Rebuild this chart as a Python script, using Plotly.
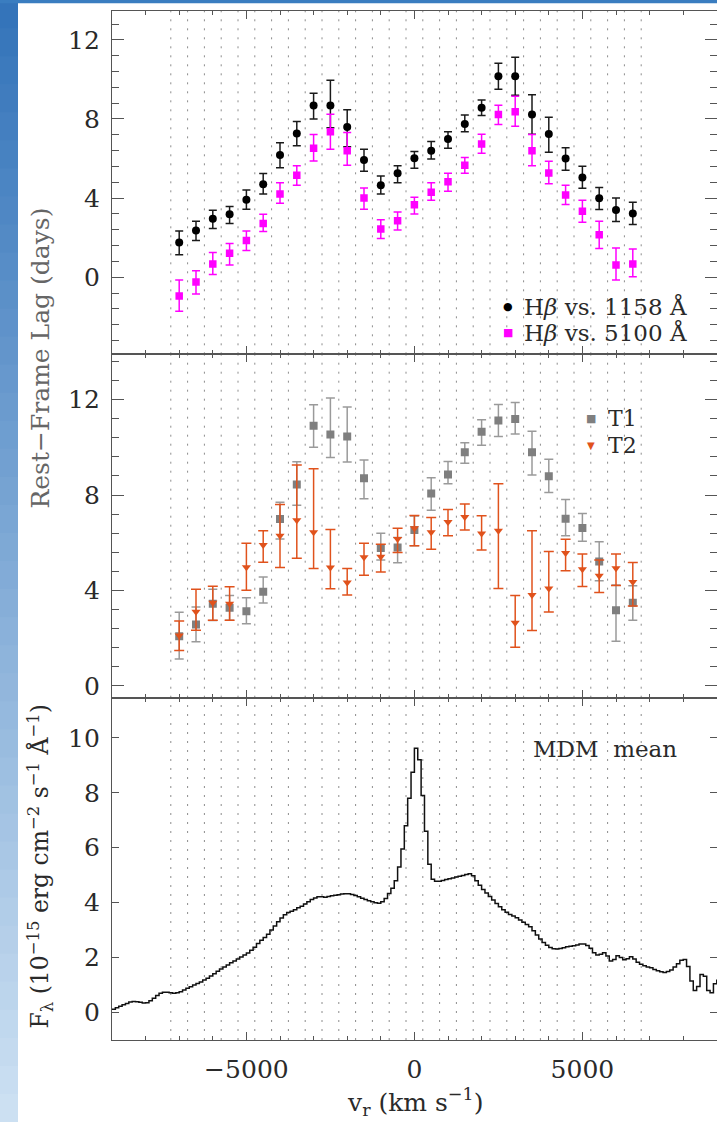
import plotly.graph_objects as go
from plotly.subplots import make_subplots

# ---------------------------------------------------------------- data
# velocity-bin centres (km/s)
vel = [-7000, -6500, -6000, -5500, -5000, -4500, -4000, -3500, -3000, -2500,
       -2000, -1500, -1000, -500, 0, 500, 1000, 1500, 2000, 2500,
       3000, 3500, 4000, 4500, 5000, 5500, 6000, 6500]
bin_half_width = 250

# H-beta vs. 1158 A continuum
lag_1158 = [1.75, 2.36, 2.95, 3.18, 3.92, 4.70, 6.18, 7.26, 8.68, 8.68,
            7.60, 5.92, 4.65, 5.26, 6.02, 6.39, 6.99, 7.75, 8.57, 10.16,
            10.16, 8.22, 7.24, 6.00, 5.04, 3.99, 3.40, 3.22]
lag_1158_up = [0.59, 0.47, 0.44, 0.39, 0.49, 0.54, 0.62, 0.61, 0.62, 1.28,
               0.87, 0.55, 0.47, 0.38, 0.33, 0.47, 0.37, 0.45, 0.39, 0.66,
               0.96, 1.01, 0.85, 0.55, 0.57, 0.54, 0.61, 0.57]
lag_1158_dn = [0.62, 0.51, 0.49, 0.47, 0.48, 0.50, 0.65, 0.62, 0.68, 1.12,
               1.00, 0.56, 0.45, 0.49, 0.51, 0.41, 0.47, 0.39, 0.40, 0.66,
               0.96, 0.99, 0.92, 0.59, 0.54, 0.57, 0.59, 0.56]

# H-beta vs. 5100 A continuum
lag_5100 = [-0.95, -0.24, 0.67, 1.21, 1.85, 2.71, 4.21, 5.16, 6.52, 7.35,
            6.39, 4.01, 2.43, 2.85, 3.66, 4.30, 4.82, 5.66, 6.74, 8.22,
            8.36, 6.39, 5.27, 4.16, 3.34, 2.14, 0.62, 0.67]
lag_5100_up = [0.81, 0.57, 0.58, 0.49, 0.49, 0.47, 0.57, 0.48, 0.69, 0.89,
               0.92, 0.50, 0.47, 0.45, 0.38, 0.48, 0.44, 0.39, 0.49, 0.48,
               0.79, 0.82, 0.59, 0.49, 0.55, 0.69, 0.85, 0.76]
lag_5100_dn = [0.77, 0.61, 0.54, 0.60, 0.50, 0.40, 0.47, 0.51, 0.64, 0.88,
               0.73, 0.57, 0.48, 0.46, 0.46, 0.41, 0.47, 0.40, 0.47, 0.50,
               0.73, 0.75, 0.55, 0.49, 0.56, 0.69, 0.76, 0.65]

# campaign halves T1 / T2
lag_t1 = [2.08, 2.57, 3.44, 3.27, 3.12, 3.94, 6.99, 8.44, 10.90, 10.54,
          10.45, 8.70, 5.78, 5.80, 6.53, 8.06, 8.86, 9.79, 10.65, 11.12,
          11.19, 9.79, 8.79, 7.00, 6.62, 5.21, 3.17, 3.48]
lag_t1_up = [1.00, 0.73, 0.61, 0.52, 0.57, 0.62, 0.71, 0.95, 0.88, 1.53,
             1.24, 0.77, 0.62, 0.42, 0.59, 0.66, 0.54, 0.40, 0.51, 0.67,
             0.69, 0.88, 0.71, 0.81, 0.60, 0.83, 1.06, 0.71]
lag_t1_dn = [0.96, 0.72, 0.70, 0.52, 0.52, 0.47, 0.84, 0.87, 0.90, 0.97,
             1.07, 0.86, 0.51, 0.64, 0.66, 0.70, 0.39, 0.46, 0.56, 0.67,
             0.63, 0.95, 0.69, 0.71, 0.56, 0.81, 1.30, 0.73]

lag_t2 = [2.11, 3.10, 3.48, 3.44, 4.97, 5.90, 6.29, 6.94, 6.44, 4.96,
          4.33, 5.39, 5.41, 6.15, 6.61, 6.44, 6.87, 7.08, 6.39, 6.50,
          2.64, 3.81, 4.08, 5.57, 4.89, 4.61, 4.93, 4.35]
lag_t2_up = [0.61, 0.95, 0.69, 0.71, 1.01, 0.60, 1.31, 2.32, 2.66, 1.59,
             0.59, 0.59, 0.52, 0.46, 0.53, 0.62, 0.52, 0.54, 0.74, 1.97,
             1.15, 2.69, 1.55, 0.57, 0.64, 0.66, 0.60, 0.82]
lag_t2_dn = [0.63, 0.77, 0.73, 0.69, 0.96, 0.72, 1.33, 1.59, 1.52, 0.89,
             0.52, 0.76, 0.64, 0.56, 0.74, 0.72, 0.58, 0.55, 0.70, 2.42,
             1.02, 1.49, 0.99, 0.75, 0.73, 0.70, 0.72, 1.00]

# MDM mean spectrum around H-beta (flux in 1e-15 erg/cm^2/s/A)
spec_v = [-9000, -8900, -8800, -8700, -8600, -8500, -8400, -8300, -8200, -8100,
          -8000, -7900, -7800, -7700, -7600, -7500, -7400, -7300, -7200, -7100,
          -7000, -6900, -6800, -6700, -6600, -6500, -6400, -6300, -6200, -6100,
          -6000, -5900, -5800, -5700, -5600, -5500, -5400, -5300, -5200, -5100,
          -5000, -4900, -4800, -4700, -4600, -4500, -4400, -4300, -4200, -4100,
          -4000, -3900, -3800, -3700, -3600, -3500, -3400, -3300, -3200, -3100,
          -3000, -2900, -2800, -2700, -2600, -2500, -2400, -2300, -2200, -2100,
          -2000, -1900, -1800, -1700, -1600, -1500, -1400, -1300, -1200, -1100,
          -1000, -900, -800, -700, -600, -500, -400, -300, -200, -100,
          0, 100, 200, 300, 400, 500, 600, 700, 800, 900,
          1000, 1100, 1200, 1300, 1400, 1500, 1600, 1700, 1800, 1900,
          2000, 2100, 2200, 2300, 2400, 2500, 2600, 2700, 2800, 2900,
          3000, 3100, 3200, 3300, 3400, 3500, 3600, 3700, 3800, 3900,
          4000, 4100, 4200, 4300, 4400, 4500, 4600, 4700, 4800, 4900,
          5000, 5100, 5200, 5300, 5400, 5500, 5600, 5700, 5800, 5900,
          6000, 6100, 6200, 6300, 6400, 6500, 6600, 6700, 6800, 6900,
          7000, 7100, 7200, 7300, 7400, 7500, 7600, 7700, 7800, 7900,
          8000, 8100, 8200, 8300, 8400, 8500, 8600, 8700, 8800, 8900,
          9000]
spec_f = [0.12, 0.17, 0.23, 0.28, 0.33, 0.38, 0.40, 0.39, 0.37, 0.35,
          0.36, 0.43, 0.52, 0.62, 0.70, 0.74, 0.74, 0.72, 0.70, 0.72,
          0.76, 0.82, 0.88, 0.94, 1.00, 1.06, 1.11, 1.18, 1.25, 1.33,
          1.41, 1.50, 1.58, 1.66, 1.73, 1.81, 1.88, 1.95, 2.02, 2.09,
          2.17, 2.27, 2.38, 2.51, 2.63, 2.73, 2.85, 3.00, 3.15, 3.30,
          3.44, 3.56, 3.64, 3.69, 3.74, 3.81, 3.87, 3.95, 4.03, 4.11,
          4.17, 4.21, 4.21, 4.20, 4.22, 4.25, 4.27, 4.29, 4.31, 4.32,
          4.32, 4.30, 4.26, 4.21, 4.16, 4.11, 4.07, 4.03, 4.00, 3.98,
          4.03, 4.15, 4.33, 4.52, 4.80, 5.30, 5.95, 6.80, 7.80, 8.75,
          9.62, 9.20, 7.90, 6.60, 5.40, 4.85, 4.78, 4.78, 4.81, 4.84,
          4.87, 4.90, 4.93, 4.96, 4.99, 5.02, 5.05, 4.98, 4.80, 4.63,
          4.48, 4.35, 4.22, 4.10, 3.97, 3.85, 3.74, 3.65, 3.57, 3.51,
          3.45, 3.37, 3.29, 3.20, 3.12, 2.98, 2.82, 2.68, 2.55, 2.45,
          2.37, 2.32, 2.31, 2.33, 2.36, 2.39, 2.41, 2.43, 2.46, 2.49,
          2.49, 2.44, 2.34, 2.18, 2.09, 2.12, 2.18, 2.06, 1.88, 1.93,
          2.07, 2.00, 1.92, 1.96, 2.03, 1.95, 1.83, 1.76, 1.70, 1.66,
          1.63, 1.57, 1.52, 1.48, 1.46, 1.49, 1.55, 1.66, 1.78, 1.90,
          1.93, 1.68, 1.15, 0.80, 0.95, 1.38, 1.32, 0.80, 0.72, 1.05,
          1.20]

# ---------------------------------------------------------------- layout geometry
W, H = 717, 1122
ML, MR, MT, MB = 112, 0, 11, 82
PW = W - ML - MR
PH = H - MT - MB


def xp(px):
    """pixel column -> paper x"""
    return (px - ML) / PW


def yp(py):
    """pixel row -> paper y"""
    return (H - MB - py) / PH


SERIF = "DejaVu Serif"
SYMF = "DejaVu Sans"
AX = "#555555"
TXT = "#2a2a2a"
ORANGE = "#e0521c"
GRAY = "#7f7f7f"

fig = make_subplots(rows=3, cols=1, shared_xaxes=True, vertical_spacing=0)

# ---- top panel
fig.add_trace(go.Scatter(
    x=vel, y=lag_1158, mode="markers",
    marker=dict(symbol="circle", size=8, color="#000000"),
    error_y=dict(type="data", symmetric=False, array=lag_1158_up,
                 arrayminus=lag_1158_dn, color="#1a1a1a", thickness=1.5, width=4),
), row=1, col=1)
fig.add_trace(go.Scatter(
    x=vel, y=lag_5100, mode="markers",
    marker=dict(symbol="square", size=7.5, color="#ff00ff"),
    error_y=dict(type="data", symmetric=False, array=lag_5100_up,
                 arrayminus=lag_5100_dn, color="#ff00ff", thickness=1.5, width=4),
), row=1, col=1)

# ---- middle panel
fig.add_trace(go.Scatter(
    x=vel, y=lag_t1, mode="markers",
    marker=dict(symbol="square", size=8, color=GRAY),
    error_y=dict(type="data", symmetric=False, array=lag_t1_up,
                 arrayminus=lag_t1_dn, color="#9a9a9a", thickness=1.5, width=4.5),
), row=2, col=1)
fig.add_trace(go.Scatter(
    x=vel, y=lag_t2, mode="markers",
    marker=dict(symbol="triangle-down", size=8, color=ORANGE),
    error_y=dict(type="data", symmetric=False, array=lag_t2_up,
                 arrayminus=lag_t2_dn, color=ORANGE, thickness=1.5, width=5),
), row=2, col=1)

# ---- bottom panel
fig.add_trace(go.Scatter(
    x=spec_v, y=spec_f, mode="lines",
    line=dict(shape="hv", color="#111111", width=1.5),
), row=3, col=1)

# ---------------------------------------------------------------- axes
xcommon = dict(
    range=[-9000, 9006], tick0=0, dtick=5000, ticks="inside", ticklen=8,
    tickwidth=1.2, tickcolor=AX, showline=True, linecolor=AX, linewidth=1.3,
    mirror="ticks", showgrid=False, zeroline=False,
    minor=dict(tick0=0, dtick=1000, ticks="inside", ticklen=4, tickcolor=AX,
               tickwidth=1.2),
    tickfont=dict(family=SERIF, size=25, color=TXT),
)
fig.update_xaxes(**xcommon)
fig.update_xaxes(showticklabels=False, row=1, col=1)
fig.update_xaxes(showticklabels=False, row=2, col=1)
fig.update_xaxes(showticklabels=True, ticklabelstandoff=7, row=3, col=1)

ycommon = dict(
    ticks="inside", tickcolor=AX, tickwidth=1.2, showline=True, linecolor=AX,
    linewidth=1.3, mirror="ticks", showgrid=False, zeroline=False,
    tickfont=dict(family=SERIF, size=25, color=TXT), ticklabelstandoff=6,
)
fig.update_yaxes(**ycommon)
fig.update_yaxes(range=[-3.9, 13.46], tick0=0, dtick=4, ticklen=12,
                 minor=dict(tick0=0, dtick=0.8, ticks="inside", ticklen=7,
                            tickcolor=AX, tickwidth=1.2),
                 domain=[yp(354.3), 1.0], row=1, col=1)
fig.update_yaxes(range=[-0.5, 13.9], tick0=0, dtick=4, ticklen=12,
                 minor=dict(tick0=0, dtick=0.8, ticks="inside", ticklen=7,
                            tickcolor=AX, tickwidth=1.2),
                 domain=[yp(697.7), yp(354.3)], row=2, col=1)
fig.update_yaxes(range=[-1.0, 11.46], tick0=0, dtick=2, ticklen=7,
                 domain=[0.0, yp(697.7)], row=3, col=1)

# ---------------------------------------------------------------- shapes
shapes = []
# dotted velocity-bin boundaries in every panel
edges = [v - bin_half_width for v in vel] + [vel[-1] + bin_half_width]
for xr, yr in (("x", "y domain"), ("x2", "y2 domain"), ("x3", "y3 domain")):
    for e in edges:
        shapes.append(dict(type="line", xref=xr, yref=yr, x0=e, x1=e, y0=0, y1=1,
                           line=dict(color="#8c8c8c", width=1, dash="2px,7px"),
                           layer="below"))

# blue page edge on the left and along the top
n_slices = 40
top_rgb = (52, 116, 186)
bot_rgb = (204, 224, 242)
for i in range(n_slices):
    f = i / (n_slices - 1)
    c = tuple(round(a + (b - a) * f) for a, b in zip(top_rgb, bot_rgb))
    y0 = H * i / n_slices
    y1 = H * (i + 1) / n_slices + 1
    shapes.append(dict(type="rect", xref="paper", yref="paper",
                       x0=xp(0), x1=xp(18), y0=yp(y1), y1=yp(y0),
                       line=dict(width=0), fillcolor="rgb(%d,%d,%d)" % c,
                       layer="above"))
shapes.append(dict(type="rect", xref="paper", yref="paper",
                   x0=xp(0), x1=xp(W), y0=yp(3.3), y1=yp(0),
                   line=dict(width=0), fillcolor="rgb(58,125,192)", layer="above"))

# ---------------------------------------------------------------- text
ann = []


def text(t, x, y, size, color=TXT, family=SERIF, xanchor="center", angle=0):
    ann.append(dict(text=t, x=xp(x), y=yp(y), xref="paper", yref="paper",
                    showarrow=False, xanchor=xanchor, yanchor="middle",
                    textangle=angle, font=dict(family=family, size=size, color=color)))


text("Rest\u2212Frame Lag (days)", 40, 358.5, 25, color="#666666", angle=-90)
text("F<sub>\u03bb</sub> (10<sup>\u221215</sup> erg cm<sup>\u22122</sup> "
     "s<sup>\u22121</sup> \u00c5<sup>\u22121</sup>)", 40, 866.5, 23.5, angle=-90)
text("v<sub>r</sub> (km s<sup>\u22121</sup>)", 415, 1102, 25)

# legends
text("\u25cf", 508, 306, 11, color="#000000", family=SYMF)
text("H<i>\u03b2</i> vs. 1158 \u00c5", 522, 306, 23, xanchor="left")
text("\u25a0", 508, 332, 11, color="#ff00ff", family=SYMF)
text("H<i>\u03b2</i> vs. 5100 \u00c5", 522, 332, 23, xanchor="left")

text("\u25a0", 591, 419, 11, color=GRAY, family=SYMF)
text("T1", 606, 419, 22, xanchor="left")
text("\u25bc", 591, 445, 10, color=ORANGE, family=SYMF)
text("T2", 606, 445, 22, xanchor="left")

text("MDM\u00a0\u00a0mean", 605, 749, 23)

fig.update_layout(
    width=W, height=H,
    margin=dict(l=ML, r=MR, t=MT, b=MB, pad=0),
    paper_bgcolor="white", plot_bgcolor="white",
    showlegend=False,
    shapes=shapes, annotations=ann,
)

fig.write_html("out.html")
